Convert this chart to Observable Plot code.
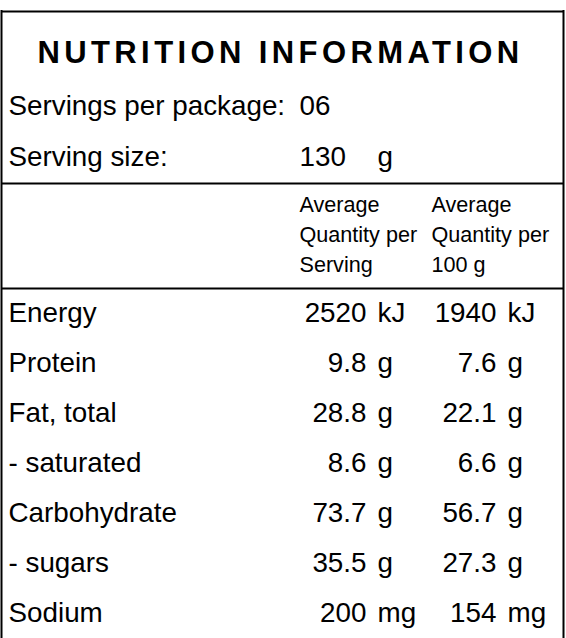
<!DOCTYPE html>
<html><head><meta charset="utf-8">
<script src="https://cdn.jsdelivr.net/npm/d3@7"></script>
<script src="https://cdn.jsdelivr.net/npm/@observablehq/plot@0.6"></script>
<style>html,body{margin:0;padding:0;background:#fff}svg{display:block}</style>
</head><body><div id="chart"></div>
<script>
// ---- data ----
const title = "NUTRITION INFORMATION";
const servingsLabel = "Servings per package:";
const servingsPerPackage = "06";
const servingSizeLabel = "Serving size:";
const servingSize = "130";
const servingSizeUnit = "g";
const headerServing = ["Average", "Quantity per", "Serving"];
const header100g = ["Average", "Quantity per", "100 g"];
const nutrients = ["Energy", "Protein", "Fat, total", "- saturated", "Carbohydrate", "- sugars", "Sodium"];
const perServing = ["2520", "9.8", "28.8", "8.6", "73.7", "35.5", "200"];
const per100g = ["1940", "7.6", "22.1", "6.6", "56.7", "27.3", "154"];
const units = ["kJ", "g", "g", "g", "g", "g", "mg"];

// ---- layout ----
const W = 566, H = 638;
const font = "'Liberation Sans', Arial, Helvetica, sans-serif";
const L = {
  left: 1, right: 563, top: 11, rule1: 183, rule2: 288,
  labelX: 8, col1X: 299, col2X: 431,
  num1R: 366, unit1L: 377, num2R: 496, unit2L: 507,
  titleY: 53, servY: 106, sizeY: 157, sizeUnitX: 377,
  headY0: 205, headStep: 30, row0: 313, rowStep: 50
};

const rows = nutrients.map((n, i) => ({
  name: n, a: perServing[i], b: per100g[i], unit: units[i],
  y: L.row0 + i * L.rowStep
}));
const head = headerServing.map((t, i) => ({t1: t, t2: header100g[i], y: L.headY0 + i * L.headStep}));

const body = {fontSize: 27.8, fill: "black", lineAnchor: "middle"};
const small = {fontSize: 21.6, fill: "black", lineAnchor: "middle", textAnchor: "start"};

const plot = Plot.plot({
  width: W, height: H, margin: 0,
  style: {fontFamily: font, background: "white"},
  x: {domain: [0, W], range: [0, W], axis: null},
  y: {domain: [0, H], range: [0, H], axis: null},
  marks: [
    Plot.ruleX([L.left, L.right], {y1: L.top - 1, y2: H + 5, stroke: "black", strokeWidth: 2}),
    Plot.ruleY([L.top, L.rule1, L.rule2], {x1: L.left, x2: L.right, stroke: "black", strokeWidth: 2}),
    Plot.text([title], {x: (L.left + L.right) / 2 - 2, y: L.titleY, text: d => d, fontSize: 31, fontWeight: "bold", fill: "black", lineAnchor: "middle", textAnchor: "middle"}),
    Plot.text([servingsLabel], {x: L.labelX, y: L.servY, text: d => d, textAnchor: "start", ...body}),
    Plot.text([servingsPerPackage], {x: L.col1X, y: L.servY, text: d => d, textAnchor: "start", ...body}),
    Plot.text([servingSizeLabel], {x: L.labelX, y: L.sizeY, text: d => d, textAnchor: "start", ...body}),
    Plot.text([servingSize], {x: L.col1X, y: L.sizeY, text: d => d, textAnchor: "start", ...body}),
    Plot.text([servingSizeUnit], {x: L.sizeUnitX, y: L.sizeY, text: d => d, textAnchor: "start", ...body}),
    Plot.text(head, {x: L.col1X, y: "y", text: "t1", ...small}),
    Plot.text(head, {x: L.col2X, y: "y", text: "t2", ...small}),
    Plot.text(rows, {x: L.labelX, y: "y", text: "name", textAnchor: "start", ...body}),
    Plot.text(rows, {x: L.num1R, y: "y", text: "a", textAnchor: "end", ...body}),
    Plot.text(rows, {x: L.unit1L, y: "y", text: "unit", textAnchor: "start", ...body}),
    Plot.text(rows, {x: L.num2R, y: "y", text: "b", textAnchor: "end", ...body}),
    Plot.text(rows, {x: L.unit2L, y: "y", text: "unit", textAnchor: "start", ...body})
  ]
});
d3.select(plot).selectAll("text").filter(function() { return this.textContent === title; })
  .style("letter-spacing", "4.4px");
document.getElementById("chart").appendChild(plot);
</script></body></html>
